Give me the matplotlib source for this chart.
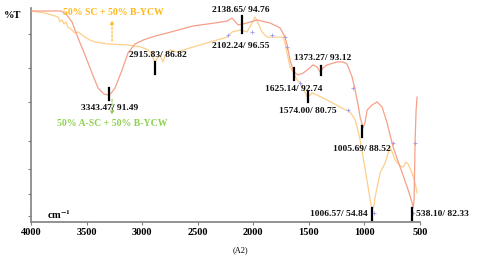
import numpy as np
import matplotlib
matplotlib.use("Agg")
import matplotlib.pyplot as plt

plt.rcParams['font.family'] = ['Liberation Serif', 'DejaVu Serif']
plt.rcParams['mathtext.fontset'] = 'stix'
plt.rcParams['mathtext.default'] = 'bf'

# ------------------- DATOS -------------------
# 50% A-SC + 50% B-YCW (curva salmón)
wn_a = [4000, 3874, 3730, 3685, 3631, 3577, 3514, 3451, 3397, 3343, 3298, 3271,
        3244, 3181, 3127, 3064, 2992, 2884, 2776, 2542, 2344, 2236, 2191, 2137,
        2056, 1966, 1849, 1759, 1714, 1696, 1669, 1642, 1624, 1597, 1552, 1516,
        1462, 1426, 1399, 1372, 1336, 1246, 1192, 1156, 1111, 1084, 1057, 1039,
        1012, 994, 976, 931, 886, 841, 796, 742, 679, 616, 589, 571, 562, 553,
        544, 535, 526]
t_a = [98.6, 98.6, 98.6, 97.2, 93.5, 86.0, 78.0, 69.6, 62.6, 59.8, 59.3, 60.7,
       62.6, 71.0, 79.0, 83.2, 85.0, 86.9, 88.3, 91.6, 93.0, 93.9, 95.3, 92.1,
       93.0, 94.4, 93.0, 90.7, 86.4, 82.7, 75.7, 71.0, 69.6, 68.7, 69.6, 71.0,
       73.4, 72.4, 70.1, 72.0, 73.4, 74.8, 74.8, 73.8, 67.8, 61.7, 54.7, 49.1,
       43.9, 46.7, 52.3, 54.7, 56.1, 53.7, 46.3, 35.0, 25.7, 16.4, 12.1, 8.9, 6.5, 10.3,
       38.3, 52.3, 58.4]

# 50% SC + 50% B-YCW (curva amarilla)
wn_b = [4000, 3937, 3874, 3811, 3757, 3739, 3721, 3703, 3685, 3667, 3631, 3604,
        3577, 3541, 3514, 3469, 3424, 3307, 3127, 3010, 2947, 2920, 2902, 2884,
        2866, 2839, 2812, 2785, 2749, 2686, 2542, 2389, 2236, 2191, 2119, 2056,
        2011, 1984, 1957, 1921, 1876, 1822, 1732, 1714, 1696, 1669, 1642, 1606,
        1579, 1543, 1516, 1489, 1471, 1426, 1336, 1219, 1129, 1084, 1066, 1039,
        1012, 985, 967, 949, 931, 913, 904, 877, 859, 814, 769, 751, 724, 679,
        652, 625, 607, 571, 544, 526]
t_b = [98.6, 98.1, 97.7, 96.7, 95.8, 93.5, 94.4, 92.5, 93.5, 91.1, 89.7, 88.3,
       88.8, 87.4, 86.4, 85.0, 84.1, 83.2, 82.7, 81.8, 80.4, 79.0, 76.6, 74.3,
       76.6, 78.0, 74.8, 79.0, 80.4, 79.4, 81.8, 84.1, 86.4, 88.8, 89.7, 88.8,
       93.0, 95.8, 93.0, 88.8, 86.4, 86.4, 86.4, 83.6, 79.0, 72.4, 70.1, 66.4,
       65.0, 61.7, 58.4, 59.3, 60.3, 59.3, 57.0, 53.7, 51.4, 47.7, 44.4, 38.3,
       30.4, 22.0, 16.4, 10.3, 5.6, 7.9, 11.7, 18.2, 22.9, 27.6, 35.0, 32.7, 29.0, 26.2,
       25.7, 28.0, 27.1, 22.9, 18.2, 13.6]

# marcadores de picos (+ azul)
pick_wn = [2228, 2012, 1832, 1714, 1696, 1579, 1148, 1102, 742, 913, 562, 544]
pick_t = [87.4, 88.8, 87.4, 86.4, 81.8, 65.0, 52.3, 62.6, 36.9, 4.2, 4.2, 36.9]

# etiquetas de picos: texto, barra (x, y0, y1), texto (x, y, alineación)
peak_labels = ["3343.47/ 91.49", "2915.83/ 86.82", "2138.65/ 94.76", "2102.24/ 96.55",
               "1373.27/ 93.12", "1625.14/ 92.74", "1574.00/ 80.75", "1005.69/ 88.52",
               "1006.57/ 54.84", "538.10/ 82.33"]
bar_x = [3298, 2884, 2101, None, 1390, 1633, 1507, 1021, 931, 571]
bar_y0 = [57.0, 69.2, 88.3, None, 68.7, 66.4, 56.1, 39.7, 0.9, 0.9]
bar_y1 = [62.6, 74.8, 96.3, None, 72.9, 72.0, 60.7, 44.9, 6.5, 6.5]
text_x = [3289, 2857, 2110, 2110, 1372, 1633, 1507, 1021, 967, 535]
text_y = [53.3, 78.0, 99.1, 82.2, 76.6, 62.1, 51.9, 34.1, 3.7, 3.7]
text_ha = ['center'] * 8 + ['right', 'left']

xticks = [4000, 3500, 3000, 2500, 2000, 1500, 1000, 500]

COLOR_A = '#f5a088'
COLOR_B = '#fdcf8a'
GOLD = '#ffb81c'
GREEN = '#8fd14f'

# ------------------- PLOT -------------------
fig = plt.figure(figsize=(4.8, 2.62), dpi=100)
ax = fig.add_axes([31 / 480, 40 / 262, 389 / 480, 214 / 262])

ax.plot(wn_b, t_b, color=COLOR_B, lw=0.9, zorder=2)
ax.plot(wn_a, t_a, color=COLOR_A, lw=0.9, zorder=3)
ax.plot(pick_wn, pick_t, '+', color='#9a9aee', ms=2.5, mew=0.6, zorder=4)

for lab, bx, b0, b1, tx, ty, ha in zip(peak_labels, bar_x, bar_y0, bar_y1,
                                         text_x, text_y, text_ha):
    if bx is not None:
        ax.plot([bx, bx], [b0, b1], color='black', lw=1.6, zorder=5)
    ax.text(tx, ty, lab, ha=ha, va='center', fontsize=6.8, fontweight='bold',
            color='#111111', clip_on=False, zorder=6)

# leyendas con flechas punteadas
ax.text(3262, 98.1, "50% SC + 50% B-YCW", ha='center', va='center', fontsize=7,
        fontweight='bold', color=GOLD)
ax.annotate("", xy=(3271, 95.5), xytext=(3271, 83.2),
            arrowprops=dict(arrowstyle='-|>', color=GOLD, lw=0.8, ls=(0, (2, 1.5)),
                            mutation_scale=5))
ax.text(3271, 45.8, "50% A-SC + 50% B-YCW", ha='center', va='center', fontsize=7,
        fontweight='bold', color=GREEN)
ax.annotate("", xy=(3271, 48.8), xytext=(3271, 58.6),
            arrowprops=dict(arrowstyle='-|>', color=GREEN, lw=0.8, ls=(0, (2, 1.5)),
                            mutation_scale=5))

ax.set_xlim(4000, 500)
ax.set_ylim(0, 100)
ax.set_xticks(xticks)
ax.set_xticklabels([str(v) for v in xticks], fontsize=7.5, fontweight='bold')
ax.set_yticks([3, 13, 25, 38, 56, 72, 88])
ax.set_yticklabels([])
ax.tick_params(axis='x', length=2, width=0.8, color='#808080', pad=2)
ax.tick_params(axis='y', length=2, width=0.8, color='#808080')

for side in ['top', 'right']:
    ax.spines[side].set_visible(False)
for side in ['left', 'bottom']:
    ax.spines[side].set_color('#808080')
    ax.spines[side].set_linewidth(1.2)

fig.text(4 / 480, 1 - 15 / 262, "%T", fontsize=7.5, fontweight='bold', va='center')
ax.text(3860, 3.7, r"cm$^{-1}$", fontsize=7.5, fontweight='bold', va='center')
fig.text(0.5, 1 - 250 / 262, "(A2)", fontsize=6, ha='center', va='center')

plt.savefig("out.png", dpi=100)
plt.close()
